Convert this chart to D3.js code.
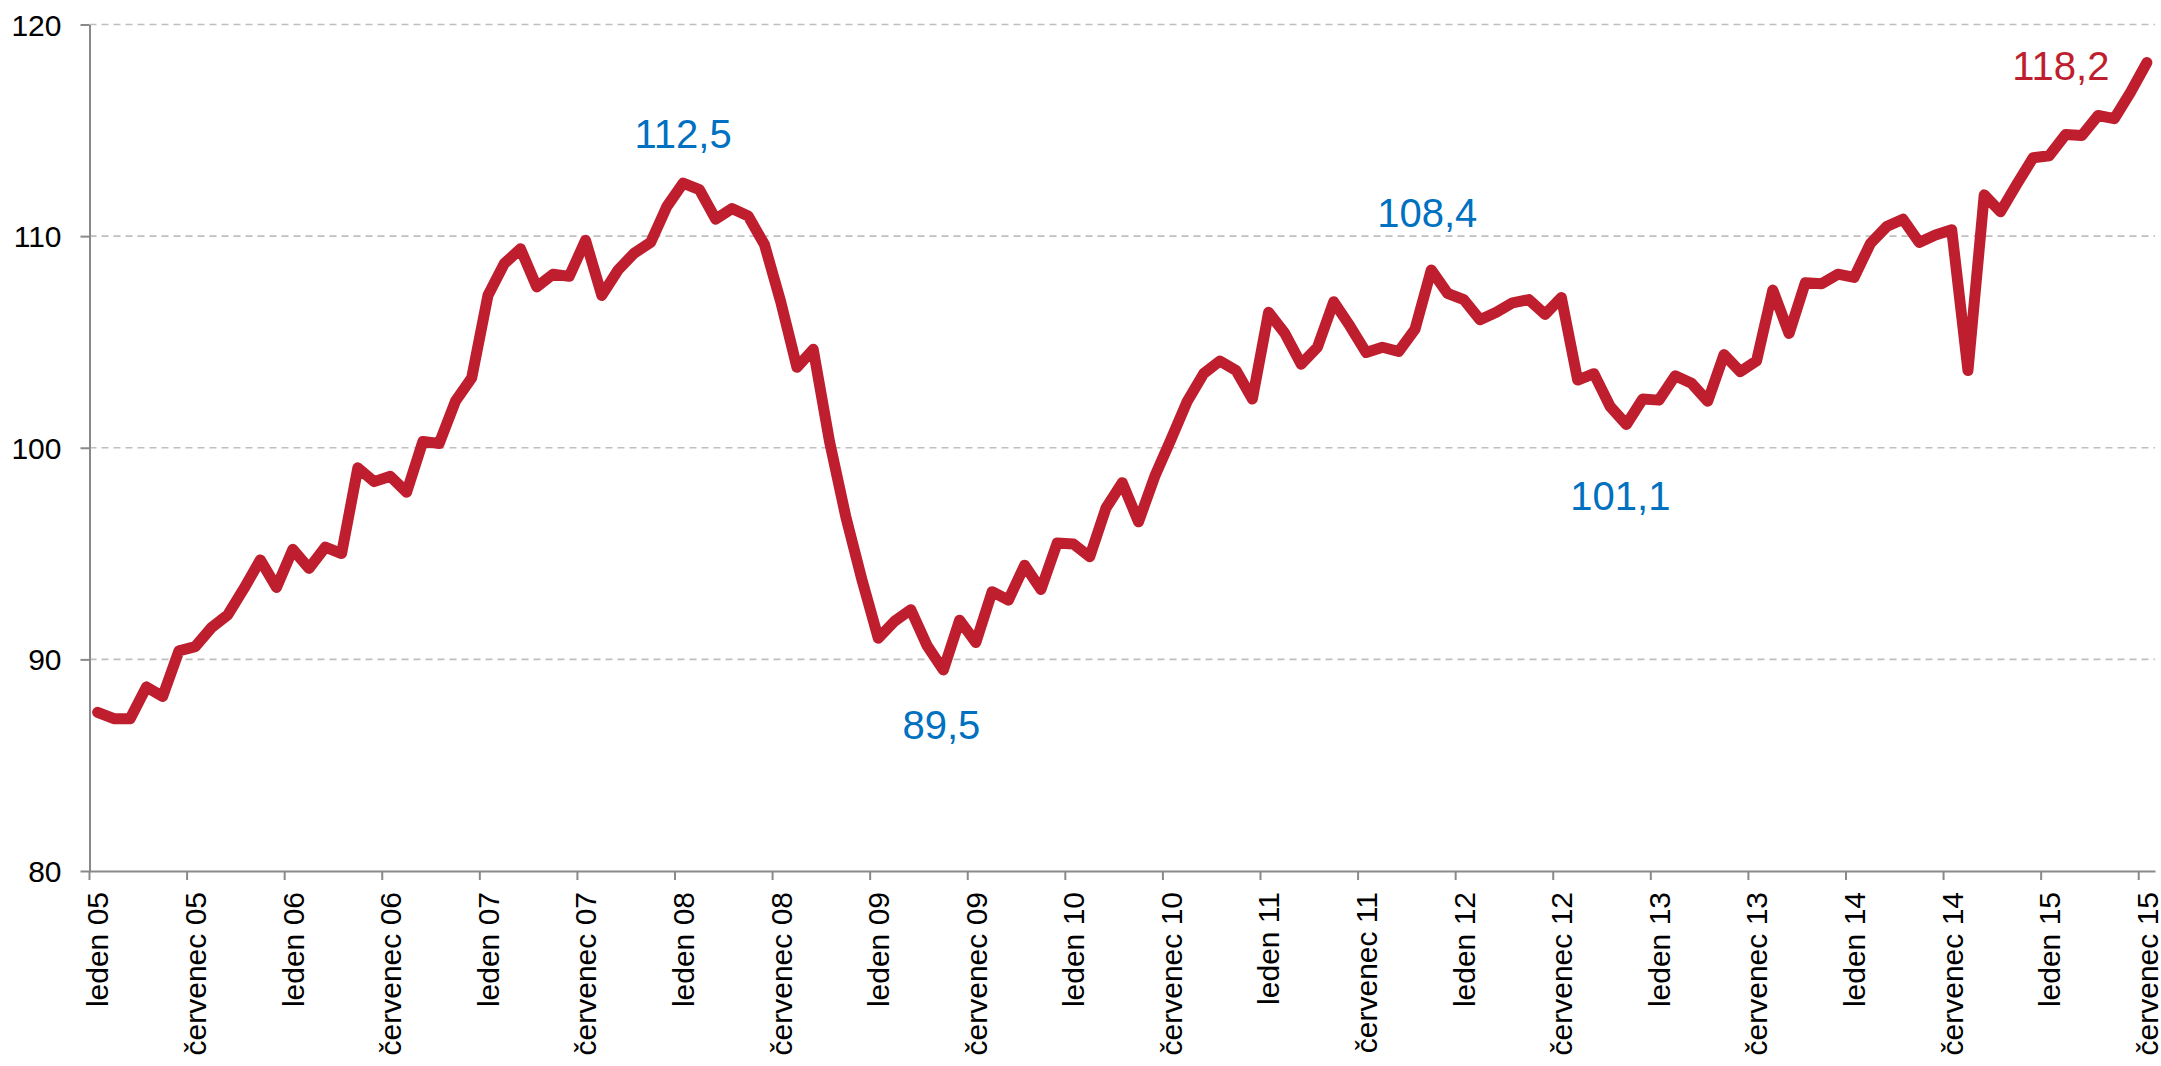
<!DOCTYPE html>
<html>
  <head>
    <meta charset="UTF-8" />
    <title>Index</title>
    <style>
      body { margin: 0; background: #fff; }
      text { font-family: 'Liberation Sans', Arial, sans-serif; }
    </style>
  </head>
  <body>
    <svg width="2161" height="1066"></svg>
    <script src="https://cdnjs.cloudflare.com/ajax/libs/d3/7.8.5/d3.min.js"></script>
    <script>
      // monthly index, leden 2005 .. červenec 2015
      const values = [
        87.5, 87.2, 87.2, 88.7, 88.25, 90.4, 90.6, 91.5, 92.1, 93.35, 94.7, 93.4,
        95.2, 94.3, 95.3, 95.0, 99.05, 98.4, 98.65, 97.9, 100.3, 100.2, 102.2, 103.3,
        107.2, 108.7, 109.4, 107.6, 108.2, 108.1, 109.8, 107.2, 108.4, 109.2, 109.7, 111.4,
        112.5, 112.2, 110.8, 111.3, 110.95, 109.6, 106.9, 103.8, 104.65, 100.3, 96.75, 93.75,
        91.0, 91.8, 92.35, 90.65, 89.5, 91.85, 90.8, 93.2, 92.8, 94.45, 93.3, 95.5,
        95.45, 94.85, 97.15, 98.35, 96.5, 98.65, 100.4, 102.2, 103.5, 104.1, 103.65, 102.3,
        106.4, 105.4, 103.95, 104.75, 106.9, 105.75, 104.5, 104.75, 104.55, 105.6, 108.4, 107.3,
        107.0, 106.05, 106.4, 106.85, 107.0, 106.3, 107.1, 103.2, 103.5, 101.95, 101.1, 102.3,
        102.25, 103.4, 103.05, 102.2, 104.4, 103.6, 104.1, 107.45, 105.4, 107.8, 107.75, 108.2,
        108.05, 109.65, 110.45, 110.8, 109.7, 110.05, 110.3, 103.65, 111.95, 111.15, 112.45, 113.7,
        113.8, 114.8, 114.75, 115.7, 115.55, 116.8, 118.2,
      ];

      const tickLabels = [
        'leden 05', 'červenec 05', 'leden 06', 'červenec 06', 'leden 07', 'červenec 07',
        'leden 08', 'červenec 08', 'leden 09', 'červenec 09', 'leden 10', 'červenec 10',
        'leden 11', 'červenec 11', 'leden 12', 'červenec 12', 'leden 13', 'červenec 13',
        'leden 14', 'červenec 14', 'leden 15', 'červenec 15',
      ];

      const yTicks = [80, 90, 100, 110, 120];

      // highlighted points: index into values, text, colour
      const labelIdx = [36, 52, 82, 94, 126];
      const labelText = ['112,5', '89,5', '108,4', '101,1', '118,2'];
      const labelColor = ['#0070C0', '#0070C0', '#0070C0', '#0070C0', '#BE1E2D'];

      const svg = d3.select('svg');

      const plotLeft = 89.5;
      const plotRight = 2155;
      const plotTop = 24.5;
      const plotBottom = 871;

      const months = d3.range(values.length);

      const xScale = d3.scaleBand().domain(months).range([plotLeft, plotRight]).padding(0);
      const bw = xScale.bandwidth();
      const xMid = (i) => xScale(i) + bw / 2;

      const yScale = d3.scaleLinear().domain([80, 120]).range([plotBottom, plotTop]);

      // gridlines
      svg
        .append('g')
        .selectAll('line')
        .data(yTicks.filter((d) => d > 80))
        .join('line')
        .attr('x1', plotLeft)
        .attr('x2', plotRight)
        .attr('y1', (d) => yScale(d))
        .attr('y2', (d) => yScale(d))
        .attr('stroke', '#BFBFBF')
        .attr('stroke-width', 1.6)
        .attr('stroke-dasharray', '7,5');

      // y axis
      const yAxisG = svg
        .append('g')
        .attr('transform', `translate(${plotLeft},0)`)
        .call(d3.axisLeft(yScale).tickValues(yTicks).tickSize(9).tickSizeOuter(0).tickPadding(19));

      yAxisG.select('.domain').attr('stroke', '#898989').attr('stroke-width', 2);
      yAxisG.selectAll('line').attr('stroke', '#898989').attr('stroke-width', 2);
      yAxisG
        .selectAll('text')
        .style('font-family', "'Liberation Sans', Arial, sans-serif")
        .attr('font-size', 30)
        .attr('fill', '#000')
        .attr('dy', '0.35em');

      // x axis: tick marks at month boundaries, labels at month centres
      const tickMonths = months.filter((i) => i % 6 === 0);

      const xAxisG = svg
        .append('g')
        .attr('transform', `translate(0,${plotBottom})`)
        .call(
          d3
            .axisBottom(xScale)
            .tickValues(tickMonths)
            .tickSize(9)
            .tickSizeOuter(0)
            .tickFormat((d, i) => tickLabels[i])
        );

      xAxisG.select('.domain').attr('stroke', '#898989').attr('stroke-width', 2);
      xAxisG
        .selectAll('.tick line')
        .attr('stroke', '#898989')
        .attr('stroke-width', 2)
        .attr('x1', -bw / 2)
        .attr('x2', -bw / 2);
      xAxisG
        .selectAll('.tick text')
        .style('font-family', "'Liberation Sans', Arial, sans-serif")
        .attr('font-size', 30)
        .attr('fill', '#000')
        .attr('text-anchor', 'end')
        .attr('transform', 'rotate(-90)')
        .attr('x', -21)
        .attr('y', 0)
        .attr('dy', '0.36em');

      // series line
      const line = d3
        .line()
        .x((d, i) => xMid(i))
        .y((d) => yScale(d));

      svg
        .append('path')
        .datum(values)
        .attr('d', line)
        .attr('fill', 'none')
        .attr('stroke', '#BE1E2D')
        .attr('stroke-width', 11)
        .attr('stroke-linejoin', 'round')
        .attr('stroke-linecap', 'round');

      // data labels (offset from the point: dx, dy to baseline)
      const labelOffset = [
        [0, -35],
        [-2, 69],
        [-4, -43],
        [-6, 86],
        [-86, 17],
      ];

      svg
        .append('g')
        .selectAll('text')
        .data(labelIdx)
        .join('text')
        .attr('x', (d, i) => xMid(d) + labelOffset[i][0])
        .attr('y', (d, i) => yScale(values[d]) + labelOffset[i][1])
        .attr('text-anchor', 'middle')
        .attr('font-size', 40)
        .attr('fill', (d, i) => labelColor[i])
        .text((d, i) => labelText[i]);
    </script>
  </body>
</html>
